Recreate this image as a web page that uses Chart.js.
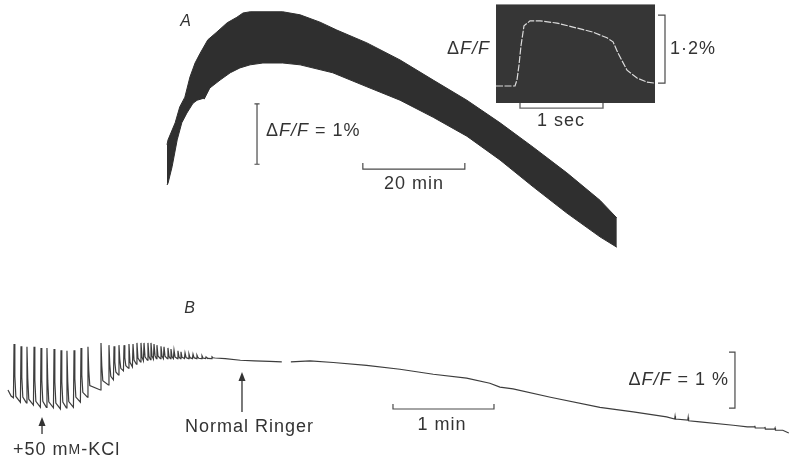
<!DOCTYPE html>
<html><head><meta charset="utf-8">
<script src="https://cdn.jsdelivr.net/npm/chart.js@4.4.0/dist/chart.umd.min.js"></script>
<style>html,body{margin:0;padding:0;background:#fff}canvas{display:block}</style>
</head><body>
<canvas id="c" width="789" height="460"></canvas>
<script>
// ---------- Panel A: envelope of repeated responses (time in min, ΔF/F in %) ----------
const aUpperT = [0, 0.2, 1.6, 2.5, 3.5, 4.5, 5.5, 6.5, 8.0, 9.8, 11.8, 13.7, 14.9, 16.3, 20.2, 22.7, 26.1, 30.0, 33.3, 39.2, 45.7, 52.2, 58.8, 65.3, 71.8, 78.4, 84.9, 88.2];
const aUpperV = [0.66, 0.74, 1.02, 1.28, 1.44, 1.77, 2.00, 2.16, 2.38, 2.51, 2.66, 2.75, 2.82, 2.84, 2.84, 2.84, 2.79, 2.67, 2.54, 2.33, 2.05, 1.72, 1.39, 1.02, 0.62, 0.20, -0.25, -0.54];
const aLowerT = [0, 0.2, 1.0, 2.0, 2.9, 3.9, 5.1, 5.9, 7.1, 7.3, 8.4, 10.4, 12.4, 14.3, 16.3, 18.8, 22.7, 26.1, 32.5, 39.2, 45.7, 52.2, 58.8, 65.3, 71.8, 78.4, 84.9, 88.2];
const aLowerV = [0, 0.03, 0.30, 0.74, 1.02, 1.18, 1.34, 1.39, 1.42, 1.41, 1.59, 1.72, 1.84, 1.92, 1.97, 2.00, 2.00, 1.97, 1.84, 1.61, 1.39, 1.11, 0.80, 0.41, -0.03, -0.46, -0.85, -1.02];
const aBar1pct = [0.34, 1.33];      // ΔF/F = 1 %
const aBarAt = 17.65;
const aBar20min = [38.4, 58.4];     // 20 min
const aBar20minLevel = [0.26, 0.36];

// ---------- Inset: single response (time in s, ΔF/F in %) ----------
const insetT = [0, 0.229, 0.253, 0.277, 0.301, 0.337, 0.410, 0.530, 0.735, 0.928, 1.169, 1.337, 1.410, 1.470, 1.578, 1.699, 1.819, 1.916];
const insetV = [0, 0, 0.11, 0.37, 0.71, 1.06, 1.15, 1.15, 1.11, 1.04, 0.95, 0.85, 0.78, 0.58, 0.28, 0.14, 0.07, 0.05];
const insetWinT = [0, 1.916];
const insetWinV = [-0.30, 1.43];
const insetBar1s = [0.289, 1.289];
const insetBar1sLevel = [-0.39, -0.30];
const insetBarPct = [0.05, 1.25];   // 1·2 %
const insetBarPctAt = [1.952, 2.036];

// ---------- Panel B: +50 mM-KCl oscillations (time in min, ΔF/F in %) ----------
const bStartT = [0.079, 0.110];
const bStartV = [-0.57, -0.68];
const spikeT = [0.139, 0.208, 0.267, 0.337, 0.406, 0.465, 0.535, 0.604, 0.663, 0.733, 0.802, 0.871, 1.000, 1.079, 1.129, 1.178, 1.228, 1.277, 1.317, 1.356, 1.396, 1.426, 1.465, 1.495, 1.525, 1.554, 1.594, 1.624, 1.663, 1.693, 1.723, 1.762, 1.792, 1.832, 1.871, 1.911, 1.950, 2.000, 2.040, 2.099];
const spikePeak = [0.25, 0.21, 0.20, 0.20, 0.18, 0.18, 0.16, 0.14, 0.13, 0.14, 0.18, 0.20, 0.27, 0.23, 0.21, 0.23, 0.23, 0.25, 0.25, 0.27, 0.27, 0.27, 0.27, 0.27, 0.25, 0.23, 0.21, 0.20, 0.18, 0.16, 0.14, 0.13, 0.11, 0.09, 0.07, 0.07, 0.05, 0.04, 0.02, 0.02];
const spikeTrough = [-0.71, -0.79, -0.80, -0.84, -0.88, -0.88, -0.89, -0.91, -0.89, -0.88, -0.79, -0.70, -0.57, -0.48, -0.39, -0.30, -0.23, -0.18, -0.16, -0.11, -0.07, -0.05, -0.04, -0.03, -0.02, -0.01, -0.01, -0.01, -0.01, -0.01, -0.01, -0.01, -0.01, -0.01, -0.01, -0.01, -0.01, -0.01, -0.01, -0.01];
const bTailT = [2.13, 2.23, 2.38, 2.52, 2.67, 2.79, 2.83, 2.88, 3.07, 3.30, 3.63, 3.96, 4.29, 4.62, 4.85, 4.95, 5.08, 5.45, 5.94, 6.27, 6.60, 6.680, 6.684, 6.688, 6.810, 6.814, 6.818, 6.93, 7.26, 7.40, 7.470, 7.474, 7.478, 7.570, 7.574, 7.578, 7.670, 7.674, 7.678, 7.75, 7.81];
const bTailV = [0.00, -0.01, -0.04, -0.05, -0.06, -0.07, null, -0.07, -0.05, -0.08, -0.13, -0.20, -0.29, -0.36, -0.45, -0.52, -0.55, -0.70, -0.88, -0.96, -1.05, -1.09, -1.04, -1.09, -1.11, -1.06, -1.12, -1.14, -1.20, -1.23, -1.23, -1.21, -1.25, -1.25, -1.23, -1.27, -1.27, -1.25, -1.29, -1.29, -1.34];
const bBar1min = [3.891, 4.891];
const bBar1minLevel = [-0.91, -0.82];
const bBarPct = [-0.893, 0.107];
const bBarPctAt = [7.218, 7.277];
const kclT = 0.416, ringerT = 2.396;

// ---------- build datasets ----------
const pts = (T, V) => T.map((t, i) => ({x: t, y: V[i]}));
const bPts = pts(bStartT, bStartV);
const dt = 0.006;
spikeT.forEach((t, i) => {
  const p = spikePeak[i], tr = spikeTrough[i];
  const last = i === spikeT.length - 1;
  const nT = last ? bTailT[0] : spikeT[i + 1];
  const nV = last ? bTailV[0] : spikeTrough[i + 1];
  bPts.push({x: t - dt, y: tr}, {x: t, y: p});
  if (nT - t > 0.045) {
    bPts.push({x: t + 0.008, y: nV + 0.45 * (p - nV)}, {x: t + 0.018, y: nV + 0.1 * (p - nV)});
  } else {
    bPts.push({x: t + 0.01, y: nV + 0.2 * (p - nV)});
  }
});
pts(bTailT, bTailV).forEach(q => bPts.push(q));

const DARK = '#2f2f2f', BAR = '#4a4a4a';
const L = (data, xA, yA, color, w, extra) => Object.assign({
  type: 'scatter', data, xAxisID: xA, yAxisID: yA, showLine: true, pointRadius: 0,
  borderColor: color, borderWidth: w, fill: false, tension: 0, clip: false, spanGaps: false
}, extra || {});

const datasets = [
  L(pts(aUpperT, aUpperV), 'xA', 'yA', DARK, 1, {fill: '+1', backgroundColor: DARK, order: 5}),
  L(pts(aLowerT, aLowerV), 'xA', 'yA', DARK, 1, {order: 5}),
  L([{x: insetWinT[0], y: insetWinV[1]}, {x: insetWinT[1], y: insetWinV[1]}], 'xI', 'yI', '#363636', 1,
    {fill: {value: insetWinV[0]}, backgroundColor: '#363636', order: 10}),
  L(pts(insetT, insetV), 'xI', 'yI', '#dcdcdc', 1.2, {order: 1, borderDash: [7, 1.5]}),
  L([{x: insetBar1s[0], y: insetBar1sLevel[1]}, {x: insetBar1s[0], y: insetBar1sLevel[0]},
     {x: insetBar1s[1], y: insetBar1sLevel[0]}, {x: insetBar1s[1], y: insetBar1sLevel[1]}], 'xI', 'yI', '#666', 1.4, {order: 0}),
  L([{x: insetBarPctAt[0], y: insetBarPct[1]}, {x: insetBarPctAt[1], y: insetBarPct[1]},
     {x: insetBarPctAt[1], y: insetBarPct[0]}, {x: insetBarPctAt[0], y: insetBarPct[0]}], 'xI', 'yI', BAR, 1.2, {order: 0}),
  L([{x: aBarAt - 0.5, y: aBar1pct[1]}, {x: aBarAt + 0.5, y: aBar1pct[1]}, {x: aBarAt, y: aBar1pct[1]},
     {x: aBarAt, y: aBar1pct[0]}, {x: aBarAt - 0.5, y: aBar1pct[0]}, {x: aBarAt + 0.5, y: aBar1pct[0]}], 'xA', 'yA', BAR, 1.2, {order: 0}),
  L([{x: aBar20min[0], y: aBar20minLevel[1]}, {x: aBar20min[0], y: aBar20minLevel[0]},
     {x: aBar20min[1], y: aBar20minLevel[0]}, {x: aBar20min[1], y: aBar20minLevel[1]}], 'xA', 'yA', BAR, 1.2, {order: 0}),
  L(bPts, 'xB', 'yB', '#3d3d3d', 1.2, {order: 2}),
  L([{x: bBar1min[0], y: bBar1minLevel[1]}, {x: bBar1min[0], y: bBar1minLevel[0]},
     {x: bBar1min[1], y: bBar1minLevel[0]}, {x: bBar1min[1], y: bBar1minLevel[1]}], 'xB', 'yB', BAR, 1.2, {order: 0}),
  L([{x: bBarPctAt[0], y: bBarPct[1]}, {x: bBarPctAt[1], y: bBarPct[1]},
     {x: bBarPctAt[1], y: bBarPct[0]}, {x: bBarPctAt[0], y: bBarPct[0]}], 'xB', 'yB', BAR, 1.2, {order: 0})
];

// ---------- annotations ----------
const FONT = '"Liberation Sans", Arial, Helvetica, sans-serif';
function rich(ctx, x, y, parts, size, align) {
  ctx.save();
  ctx.textBaseline = 'middle';
  ctx.textAlign = 'left';
  try { ctx.letterSpacing = '1px'; } catch (e) {}
  const f = p => (p[1] ? 'italic ' : '') + (p[2] || size) + 'px ' + FONT;
  let w = 0;
  parts.forEach(p => { ctx.font = f(p); w += ctx.measureText(p[0]).width; });
  let cx = align === 'center' ? x - w / 2 : align === 'right' ? x - w : x;
  ctx.fillStyle = '#333';
  parts.forEach(p => { ctx.font = f(p); ctx.fillText(p[0], cx, y); cx += ctx.measureText(p[0]).width; });
  ctx.restore();
}
function arrow(ctx, x, tip, bottom) {
  ctx.save();
  ctx.strokeStyle = '#333'; ctx.fillStyle = '#333'; ctx.lineWidth = 1.3;
  ctx.beginPath(); ctx.moveTo(x, tip + 6); ctx.lineTo(x, bottom); ctx.stroke();
  ctx.beginPath(); ctx.moveTo(x, tip); ctx.lineTo(x - 3.5, tip + 9); ctx.lineTo(x + 3.5, tip + 9); ctx.closePath(); ctx.fill();
  ctx.restore();
}
const annot = {
  id: 'annot',
  afterDraw(chart) {
    const ctx = chart.ctx, xB = chart.scales.xB;
    rich(ctx, 186, 22, [['A', true]], 16, 'center');
    rich(ctx, 190, 309, [['B', true]], 16, 'center');
    rich(ctx, 490, 49, [['Δ'], ['F/F', true]], 18, 'right');
    rich(ctx, 670, 49, [['1·2%']], 18, 'left');
    rich(ctx, 561, 121, [['1 sec']], 18, 'center');
    rich(ctx, 266, 131, [['Δ'], ['F/F', true], [' = 1%']], 18, 'left');
    rich(ctx, 414, 184, [['20 min']], 18, 'center');
    rich(ctx, 729, 380, [['Δ'], ['F/F', true], [' = 1 %']], 18, 'right');
    rich(ctx, 442, 425, [['1 min']], 18, 'center');
    rich(ctx, 185, 427, [['Normal Ringer']], 18, 'left');
    rich(ctx, 13, 450, [['+50 m'], ['M', false, 14], ['-KCl']], 18, 'left');
    arrow(ctx, xB.getPixelForValue(kclT), 417, 434);
    arrow(ctx, xB.getPixelForValue(ringerT), 372, 412);
  }
};

const lin = (min, max) => ({type: 'linear', display: false, min, max});
new Chart(document.getElementById('c'), {
  type: 'scatter',
  data: {datasets},
  options: {
    responsive: false, animation: false, devicePixelRatio: 1,
    layout: {padding: 0},
    plugins: {legend: {display: false}, tooltip: {enabled: false}, title: {display: false}},
    scales: {
      xA: lin(-32.745, 121.961), yA: lin(-4.508, 3.033),
      xI: lin(-5.976, 3.530), yI: lin(-6.596, 1.517),
      xB: lin(0, 7.812), yB: lin(-1.821, 6.393)
    }
  },
  plugins: [annot]
});
</script>
</body></html>
